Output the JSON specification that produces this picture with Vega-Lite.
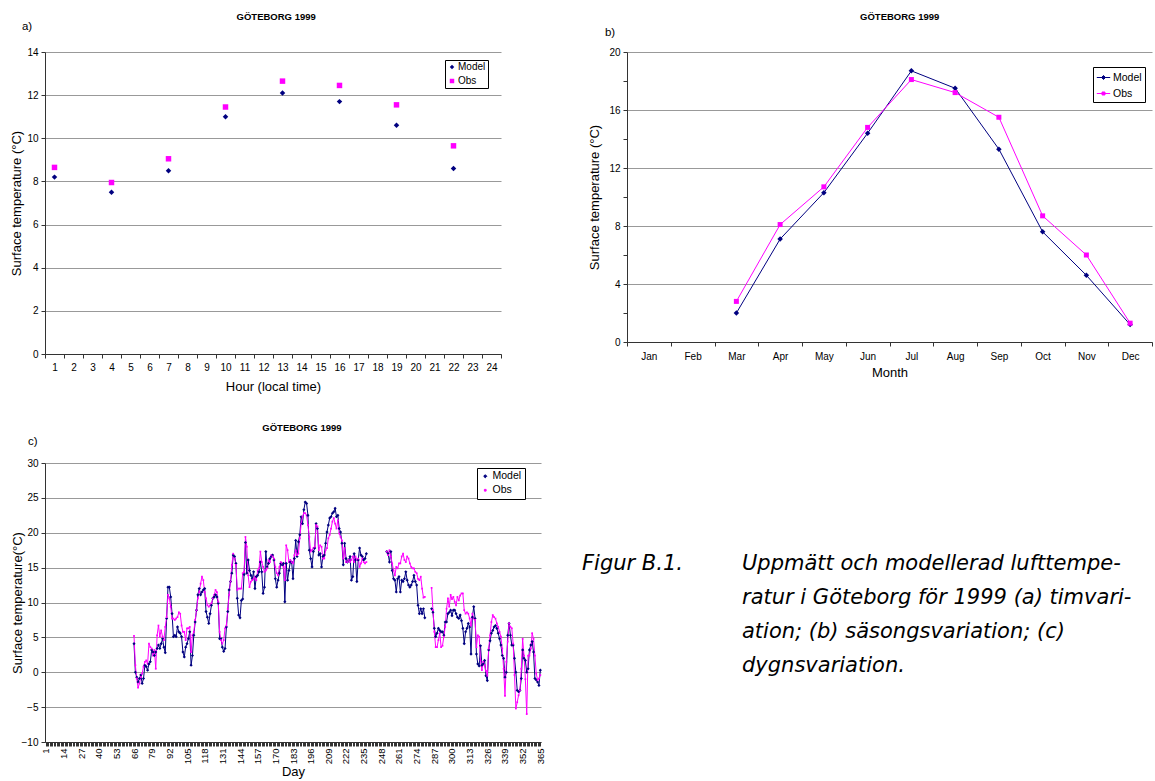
{
  "$schema": "https://vega.github.io/schema/vega-lite/v6.json",
  "background": "white",
  "padding": {"left": 10, "top": 12, "right": 0, "bottom": 0},
  "config": {
    "font": "Liberation Sans",
    "view": {"stroke": null},
    "axis": {"labelFontSize": 10, "titleFontSize": 13, "titleFontWeight": "normal", "labelColor": "#000", "titleColor": "#000", "domainColor": "#333", "tickColor": "#333", "gridColor": "#999", "tickSize": 4, "labelPadding": 3},
    "axisX": {"grid": false},
    "title": {"fontSize": 9.5, "fontWeight": "bold", "color": "#000"},
    "legend": {"title": null, "orient": "none", "strokeColor": "#000", "fillColor": "white", "padding": 3, "labelFontSize": 10.5, "rowPadding": 3, "labelOffset": 2}
  },
  "resolve": {"scale": {"color": "independent", "shape": "independent", "size": "independent"}},
  "spacing": 30,
  "vconcat": [
    {
      "spacing": 86,
      "resolve": {"scale": {"color": "independent", "shape": "independent", "size": "independent"}},
      "hconcat": [
        {
          "title": {"text": "GÖTEBORG 1999", "anchor": "middle", "dx": 20, "offset": -1},
          "vconcat": [
            {
              "title": {"text": "a)", "anchor": "start", "dx": 11, "offset": 15, "fontSize": 11.5, "fontWeight": "normal"},
              "width": 456,
              "height": 302,
              "data": {"values": [
                {"hour": 1, "Model": 8.2, "Obs": 8.65},
                {"hour": 4, "Model": 7.5, "Obs": 7.95},
                {"hour": 7, "Model": 8.5, "Obs": 9.05},
                {"hour": 10, "Model": 11.0, "Obs": 11.45},
                {"hour": 13, "Model": 12.1, "Obs": 12.65},
                {"hour": 16, "Model": 11.7, "Obs": 12.45},
                {"hour": 19, "Model": 10.6, "Obs": 11.55},
                {"hour": 22, "Model": 8.6, "Obs": 9.65}
              ]},
              "transform": [{"fold": ["Model", "Obs"], "as": ["series", "temp"]}],
              "mark": {"type": "point", "filled": true, "opacity": 1, "size": 30},
              "encoding": {
                "x": {"field": "hour", "type": "ordinal", "bandPosition": 0.5,
                  "scale": {"type": "band", "domain": [1,2,3,4,5,6,7,8,9,10,11,12,13,14,15,16,17,18,19,20,21,22,23,24], "paddingInner": 0, "paddingOuter": 0},
                  "axis": {"title": "Hour (local time)", "labelAngle": 0, "tickBand": "extent", "titlePadding": 8, "labelPadding": 4}},
                "y": {"field": "temp", "type": "quantitative", "scale": {"domain": [0, 14], "nice": false},
                  "axis": {"values": [0,2,4,6,8,10,12,14], "title": "Surface temperature (°C)", "grid": true, "titlePadding": 3}},
                "color": {"field": "series", "type": "nominal", "scale": {"domain": ["Model", "Obs"], "range": ["#000080", "#ff00ff"]},
                  "legend": {"legendX": 400, "legendY": 8, "symbolSize": 20, "labelFontSize": 10, "labelOffset": 1, "padding": 2, "rowPadding": 4}},
                "shape": {"field": "series", "type": "nominal", "scale": {"domain": ["Model", "Obs"], "range": ["diamond", "square"]}}
              }
            }
          ]
        },
        {
          "title": {"text": "GÖTEBORG 1999", "anchor": "middle", "dx": 29, "offset": 5},
          "vconcat": [
            {
              "title": {"text": "b)", "anchor": "start", "dx": 16, "offset": 9, "fontSize": 11.5, "fontWeight": "normal"},
              "width": 525,
              "height": 290,
              "data": {"values": [
                {"month": "Mar", "Model": 2.0, "Obs": 2.8},
                {"month": "Apr", "Model": 7.1, "Obs": 8.1},
                {"month": "May", "Model": 10.3, "Obs": 10.7},
                {"month": "Jun", "Model": 14.4, "Obs": 14.8},
                {"month": "Jul", "Model": 18.7, "Obs": 18.1},
                {"month": "Aug", "Model": 17.5, "Obs": 17.2},
                {"month": "Sep", "Model": 13.3, "Obs": 15.5},
                {"month": "Oct", "Model": 7.6, "Obs": 8.7},
                {"month": "Nov", "Model": 4.6, "Obs": 6.0},
                {"month": "Dec", "Model": 1.2, "Obs": 1.3}
              ]},
              "transform": [{"fold": ["Model", "Obs"], "as": ["series", "temp"]}],
              "encoding": {
                "x": {"field": "month", "type": "ordinal", "bandPosition": 0.5,
                  "scale": {"type": "band", "domain": ["Jan","Feb","Mar","Apr","May","Jun","Jul","Aug","Sep","Oct","Nov","Dec"], "paddingInner": 0, "paddingOuter": 0},
                  "axis": {"title": "Month", "labelAngle": 0, "tickBand": "extent", "titlePadding": 5, "labelPadding": 5}},
                "y": {"field": "temp", "type": "quantitative", "scale": {"domain": [0, 20], "nice": false},
                  "axis": {"values": [0,2,4,6,8,10,12,14,16,18,20], "title": "Surface temperature (°C)", "grid": true, "titlePadding": 7,
                    "labelExpr": "datum.value % 4 === 0 ? datum.label : ''",
                    "gridOpacity": {"condition": {"test": "datum.value % 4 === 0", "value": 1}, "value": 0}}},
                "color": {"field": "series", "type": "nominal", "scale": {"domain": ["Model", "Obs"], "range": ["#000080", "#ff00ff"]},
                  "legend": {"legendX": 466, "legendY": 15, "symbolSize": 180,
                    "encode": {"symbols": {"update": {
                      "shape": {"signal": "datum.value === 'Model' ? 'M-1,0H1M0,-0.3L0.3,0L0,0.3L-0.3,0Z' : 'M-1,0H1M-0.22,-0.22H0.22V0.22H-0.22Z'"},
                      "stroke": {"signal": "datum.value === 'Model' ? '#000080' : '#ff00ff'"},
                      "fill": {"signal": "datum.value === 'Model' ? '#000080' : '#ff00ff'"},
                      "strokeWidth": {"value": 1},
                      "opacity": {"value": 1}}}}}}
              },
              "layer": [
                {"mark": {"type": "line", "strokeWidth": 1}},
                {"transform": [{"filter": "datum.series === 'Model'"}],
                  "mark": {"type": "point", "filled": true, "opacity": 1, "size": 30, "shape": "diamond"}},
                {"transform": [{"filter": "datum.series === 'Obs'"}],
                  "mark": {"type": "point", "filled": true, "opacity": 1, "size": 25, "shape": "square"}}
              ]
            }
          ]
        }
      ]
    },
    {
      "spacing": 37,
      "resolve": {"scale": {"color": "independent", "shape": "independent", "size": "independent"}},
      "hconcat": [
        {
          "title": {"text": "GÖTEBORG 1999", "anchor": "middle", "dx": 24, "offset": 3},
          "vconcat": [
            {
              "title": {"text": "c)", "anchor": "start", "dx": 17, "offset": 11, "fontSize": 11.5, "fontWeight": "normal"},
              "width": 496,
              "height": 279,
              "data": {"values": [
{"day":66,"Model":4.1,"Obs":5.2},{"day":67,"Model":0.0,"Obs":1.0},{"day":68,"Model":-0.7,"Obs":-0.9},{"day":69,"Model":-1.4,"Obs":-2.2},{"day":70,"Model":-0.9,"Obs":-1.6},
{"day":71,"Model":-0.4,"Obs":-0.7},{"day":72,"Model":-1.6,"Obs":-0.2},{"day":73,"Model":-0.9,"Obs":0.8},{"day":74,"Model":1.0,"Obs":1.5},{"day":75,"Model":0.8,"Obs":1.7},
{"day":76,"Model":0.3,"Obs":1.2},{"day":77,"Model":1.2,"Obs":4.1},{"day":78,"Model":1.5,"Obs":3.6},{"day":79,"Model":3.2,"Obs":3.4},{"day":80,"Model":2.9,"Obs":2.4},
{"day":81,"Model":2.4,"Obs":3.2},{"day":82,"Model":2.9,"Obs":0.5},{"day":83,"Model":3.4,"Obs":5.3},{"day":84,"Model":3.9,"Obs":6.7},{"day":85,"Model":3.4,"Obs":5.1},
{"day":86,"Model":4.1,"Obs":6.0},{"day":87,"Model":4.8,"Obs":5.1},{"day":88,"Model":3.6,"Obs":4.6},{"day":89,"Model":2.8,"Obs":6.5},{"day":90,"Model":7.7,"Obs":7.9},
{"day":91,"Model":12.2,"Obs":11.1},{"day":92,"Model":12.2,"Obs":10.6},{"day":93,"Model":10.8,"Obs":9.4},{"day":94,"Model":8.4,"Obs":7.7},{"day":95,"Model":5.1,"Obs":7.7},
{"day":96,"Model":5.3,"Obs":7.5},{"day":97,"Model":5.1,"Obs":7.7},{"day":98,"Model":6.5,"Obs":7.9},{"day":99,"Model":5.8,"Obs":8.6},{"day":100,"Model":5.6,"Obs":8.4},
{"day":101,"Model":5.1,"Obs":6.7},{"day":102,"Model":2.9,"Obs":5.8},{"day":103,"Model":2.2,"Obs":5.8},{"day":104,"Model":3.6,"Obs":4.6},{"day":105,"Model":4.1,"Obs":6.3},
{"day":106,"Model":4.8,"Obs":6.3},{"day":107,"Model":5.8,"Obs":6.5},{"day":108,"Model":1.0,"Obs":2.9},{"day":109,"Model":2.4,"Obs":5.3},{"day":110,"Model":5.3,"Obs":5.8},
{"day":111,"Model":7.2,"Obs":7.5},{"day":112,"Model":8.9,"Obs":8.9},{"day":113,"Model":11.1,"Obs":10.6},{"day":114,"Model":12.0,"Obs":11.5},{"day":115,"Model":11.1,"Obs":12.7},
{"day":116,"Model":11.5,"Obs":13.7},{"day":117,"Model":11.8,"Obs":13.2},{"day":118,"Model":12.0,"Obs":11.5},{"day":119,"Model":8.7,"Obs":10.6},{"day":120,"Model":7.9,"Obs":9.6},
{"day":121,"Model":7.0,"Obs":9.4},{"day":122,"Model":8.4,"Obs":9.6},{"day":123,"Model":9.6,"Obs":9.9},{"day":124,"Model":10.6,"Obs":10.6},{"day":125,"Model":10.8,"Obs":11.1},
{"day":126,"Model":11.1,"Obs":11.8},{"day":127,"Model":10.8,"Obs":11.5},{"day":128,"Model":9.9,"Obs":10.1},{"day":129,"Model":4.8,"Obs":5.8},{"day":130,"Model":4.8,"Obs":4.6},
{"day":131,"Model":3.6,"Obs":4.1},{"day":132,"Model":3.0,"Obs":4.6},{"day":133,"Model":3.4,"Obs":6.3},{"day":134,"Model":6.5,"Obs":6.7},{"day":135,"Model":8.7,"Obs":9.1},
{"day":136,"Model":11.8,"Obs":11.1},{"day":137,"Model":13.0,"Obs":13.0},{"day":138,"Model":14.2,"Obs":15.4},{"day":139,"Model":16.8,"Obs":17.0},{"day":140,"Model":16.6,"Obs":16.3},
{"day":141,"Model":15.6,"Obs":15.4},{"day":142,"Model":10.6,"Obs":11.8},{"day":143,"Model":8.2,"Obs":12.0},{"day":144,"Model":7.8,"Obs":12.0},{"day":145,"Model":10.3,"Obs":12.0},
{"day":146,"Model":10.5,"Obs":14.2},{"day":147,"Model":14.0,"Obs":14.4},{"day":148,"Model":18.6,"Obs":19.4},{"day":149,"Model":14.2,"Obs":18.0},{"day":150,"Model":16.1,"Obs":13.9},
{"day":151,"Model":14.6,"Obs":12.2},{"day":152,"Model":13.9,"Obs":13.0},{"day":153,"Model":13.4,"Obs":13.2},{"day":154,"Model":14.4,"Obs":13.4},{"day":155,"Model":12.0,"Obs":13.7},
{"day":156,"Model":13.7,"Obs":13.2},{"day":157,"Model":13.9,"Obs":14.6},{"day":158,"Model":14.4,"Obs":14.9},{"day":159,"Model":15.8,"Obs":17.3},{"day":160,"Model":14.4,"Obs":15.8},
{"day":161,"Model":11.3,"Obs":15.1},{"day":162,"Model":12.2,"Obs":14.4},{"day":163,"Model":17.3,"Obs":14.6},{"day":164,"Model":15.1,"Obs":14.9},{"day":165,"Model":15.6,"Obs":16.1},
{"day":166,"Model":16.3,"Obs":15.8},{"day":167,"Model":16.6,"Obs":16.8},{"day":168,"Model":16.8,"Obs":16.6},{"day":169,"Model":16.1,"Obs":16.3},{"day":170,"Model":13.4,"Obs":15.1},
{"day":171,"Model":12.2,"Obs":14.2},{"day":172,"Model":13.2,"Obs":13.9},{"day":173,"Model":14.2,"Obs":15.1},{"day":174,"Model":15.6,"Obs":15.8},{"day":175,"Model":15.4,"Obs":15.6},
{"day":176,"Model":15.6,"Obs":15.1},{"day":177,"Model":10.1,"Obs":13.2},{"day":178,"Model":15.6,"Obs":18.2},{"day":179,"Model":13.2,"Obs":17.5},{"day":180,"Model":14.6,"Obs":15.8},
{"day":181,"Model":15.8,"Obs":16.1},{"day":182,"Model":15.8,"Obs":15.8},{"day":183,"Model":13.4,"Obs":15.6},{"day":184,"Model":16.3,"Obs":16.8},{"day":185,"Model":18.9,"Obs":17.5},
{"day":186,"Model":16.6,"Obs":16.8},{"day":187,"Model":18.7,"Obs":17.0},{"day":188,"Model":19.7,"Obs":19.2},{"day":189,"Model":22.3,"Obs":21.3},{"day":190,"Model":21.3,"Obs":22.3},
{"day":191,"Model":23.3,"Obs":22.8},{"day":192,"Model":24.4,"Obs":22.8},{"day":193,"Model":24.2,"Obs":22.5},{"day":194,"Model":22.5,"Obs":21.1},{"day":195,"Model":17.5,"Obs":19.4},
{"day":196,"Model":16.3,"Obs":17.3},{"day":197,"Model":15.1,"Obs":17.5},{"day":198,"Model":17.3,"Obs":17.8},{"day":199,"Model":17.8,"Obs":18.0},{"day":200,"Model":21.3,"Obs":21.1},
{"day":201,"Model":20.6,"Obs":20.9},{"day":202,"Model":16.8,"Obs":17.5},{"day":203,"Model":17.0,"Obs":18.2},{"day":204,"Model":15.1,"Obs":18.0},{"day":205,"Model":16.6,"Obs":16.3},
{"day":206,"Model":16.8,"Obs":16.3},{"day":207,"Model":18.5,"Obs":17.5},{"day":208,"Model":20.1,"Obs":17.8},{"day":209,"Model":21.1,"Obs":19.2},{"day":210,"Model":22.1,"Obs":19.7},
{"day":211,"Model":22.3,"Obs":20.6},{"day":212,"Model":22.8,"Obs":21.6},{"day":213,"Model":23.0,"Obs":22.1},{"day":214,"Model":23.5,"Obs":21.3},{"day":215,"Model":22.3,"Obs":20.6},
{"day":216,"Model":22.5,"Obs":21.8},{"day":217,"Model":20.6,"Obs":19.9},{"day":218,"Model":20.1,"Obs":19.4},{"day":219,"Model":18.5,"Obs":18.9},{"day":220,"Model":15.4,"Obs":16.3},
{"day":221,"Model":18.5,"Obs":17.8},{"day":222,"Model":16.3,"Obs":15.8},{"day":223,"Model":15.8,"Obs":15.8},{"day":224,"Model":16.1,"Obs":16.1},{"day":225,"Model":16.6,"Obs":15.8},
{"day":226,"Model":13.2,"Obs":16.1},{"day":227,"Model":13.7,"Obs":16.6},{"day":228,"Model":17.0,"Obs":15.8},{"day":229,"Model":16.1,"Obs":16.6},{"day":230,"Model":13.0,"Obs":16.1},
{"day":231,"Model":16.1,"Obs":16.3},{"day":232,"Model":17.8,"Obs":15.1},{"day":233,"Model":16.8,"Obs":15.6},{"day":234,"Model":16.6,"Obs":16.3},{"day":235,"Model":16.1,"Obs":15.8},
{"day":236,"Model":16.3,"Obs":15.6},{"day":237,"Model":17.0,"Obs":15.8},{"day":238,"Model":null,"Obs":null},
{"day":252,"Model":17.3,"Obs":17.3},{"day":253,"Model":17.0,"Obs":16.8},{"day":254,"Model":15.8,"Obs":17.5},{"day":255,"Model":17.3,"Obs":16.6},
{"day":256,"Model":14.6,"Obs":15.6},{"day":257,"Model":13.4,"Obs":14.6},{"day":258,"Model":13.2,"Obs":13.9},{"day":259,"Model":11.5,"Obs":15.1},{"day":260,"Model":13.4,"Obs":14.9},
{"day":261,"Model":13.7,"Obs":15.6},{"day":262,"Model":11.5,"Obs":15.6},{"day":263,"Model":13.2,"Obs":16.6},{"day":264,"Model":13.0,"Obs":17.0},{"day":265,"Model":13.4,"Obs":16.1},
{"day":266,"Model":14.4,"Obs":15.8},{"day":267,"Model":13.2,"Obs":16.6},{"day":268,"Model":12.5,"Obs":16.3},{"day":269,"Model":12.2,"Obs":15.6},{"day":270,"Model":12.5,"Obs":15.1},
{"day":271,"Model":13.0,"Obs":14.9},{"day":272,"Model":13.9,"Obs":14.9},{"day":273,"Model":13.0,"Obs":14.4},{"day":274,"Model":12.5,"Obs":14.2},{"day":275,"Model":9.6,"Obs":13.4},
{"day":276,"Model":8.4,"Obs":13.2},{"day":277,"Model":9.1,"Obs":13.7},{"day":278,"Model":8.4,"Obs":12.0},{"day":279,"Model":9.1,"Obs":10.7},{"day":280,"Model":7.8,"Obs":10.8},
{"day":281,"Model":null,"Obs":null},
{"day":285,"Model":9.1,"Obs":12.1},{"day":286,"Model":8.6,"Obs":8.9},{"day":287,"Model":6.3,"Obs":5.8},{"day":288,"Model":5.1,"Obs":3.6},{"day":289,"Model":5.6,"Obs":3.6},
{"day":290,"Model":6.3,"Obs":4.6},{"day":291,"Model":6.0,"Obs":5.6},{"day":292,"Model":5.8,"Obs":3.6},{"day":293,"Model":5.8,"Obs":3.8},{"day":294,"Model":5.3,"Obs":5.1},
{"day":295,"Model":7.2,"Obs":6.5},{"day":296,"Model":7.2,"Obs":9.1},{"day":297,"Model":8.4,"Obs":10.6},{"day":298,"Model":8.6,"Obs":9.4},{"day":299,"Model":8.9,"Obs":11.1},
{"day":300,"Model":8.1,"Obs":10.5},{"day":301,"Model":8.9,"Obs":10.8},{"day":302,"Model":8.9,"Obs":10.1},{"day":303,"Model":8.4,"Obs":9.6},{"day":304,"Model":7.9,"Obs":10.8},
{"day":305,"Model":7.7,"Obs":10.3},{"day":306,"Model":8.2,"Obs":11.0},{"day":307,"Model":7.4,"Obs":11.3},{"day":308,"Model":6.3,"Obs":11.3},{"day":309,"Model":4.1,"Obs":8.9},
{"day":310,"Model":5.8,"Obs":8.4},{"day":311,"Model":6.3,"Obs":8.6},{"day":312,"Model":7.0,"Obs":8.4},{"day":313,"Model":6.5,"Obs":7.7},{"day":314,"Model":2.6,"Obs":6.7},
{"day":315,"Model":7.9,"Obs":8.4},{"day":316,"Model":9.4,"Obs":7.7},{"day":317,"Model":7.7,"Obs":7.5},{"day":318,"Model":2.6,"Obs":3.6},{"day":319,"Model":1.2,"Obs":5.3},
{"day":320,"Model":0.9,"Obs":5.1},{"day":321,"Model":3.8,"Obs":1.7},{"day":322,"Model":1.0,"Obs":0.3},{"day":323,"Model":1.2,"Obs":1.5},{"day":324,"Model":1.7,"Obs":1.0},
{"day":325,"Model":-0.5,"Obs":0.2},{"day":326,"Model":-1.2,"Obs":-0.5},{"day":327,"Model":3.2,"Obs":3.4},{"day":328,"Model":4.5,"Obs":5.3},{"day":329,"Model":5.6,"Obs":7.2},
{"day":330,"Model":6.0,"Obs":8.2},{"day":331,"Model":6.5,"Obs":7.9},{"day":332,"Model":6.7,"Obs":7.7},{"day":333,"Model":6.3,"Obs":7.0},{"day":334,"Model":5.6,"Obs":6.5},
{"day":335,"Model":4.8,"Obs":5.8},{"day":336,"Model":3.9,"Obs":5.1},{"day":337,"Model":2.4,"Obs":3.4},{"day":338,"Model":2.0,"Obs":0.5},{"day":339,"Model":-0.7,"Obs":-3.4},
{"day":340,"Model":0.0,"Obs":1.5},{"day":341,"Model":5.3,"Obs":4.4},{"day":342,"Model":7.0,"Obs":7.0},{"day":343,"Model":5.3,"Obs":6.5},{"day":344,"Model":3.9,"Obs":6.3},
{"day":345,"Model":3.9,"Obs":4.1},{"day":346,"Model":2.0,"Obs":-0.4},{"day":347,"Model":0.0,"Obs":-5.2},{"day":348,"Model":-2.6,"Obs":-4.3},{"day":349,"Model":-2.8,"Obs":-3.3},
{"day":350,"Model":-2.6,"Obs":-2.6},{"day":351,"Model":-0.9,"Obs":0.5},{"day":352,"Model":3.2,"Obs":4.8},{"day":353,"Model":2.0,"Obs":2.4},{"day":354,"Model":1.7,"Obs":-1.0},
{"day":355,"Model":0.0,"Obs":-6.0},{"day":356,"Model":0.5,"Obs":2.4},{"day":357,"Model":3.2,"Obs":2.4},{"day":358,"Model":3.9,"Obs":3.4},{"day":359,"Model":4.4,"Obs":5.6},
{"day":360,"Model":2.9,"Obs":4.8},{"day":361,"Model":-0.9,"Obs":2.4},{"day":362,"Model":-1.1,"Obs":-0.2},{"day":363,"Model":-1.4,"Obs":-1.1},{"day":364,"Model":-1.9,"Obs":-0.9},
{"day":365,"Model":0.3,"Obs":-0.4}
              ]},
              "transform": [{"fold": ["Model", "Obs"], "as": ["series", "temp"]}],
              "encoding": {
                "x": {"field": "day", "type": "quantitative", "scale": {"domain": [0.5, 365.5], "nice": false, "zero": false},
                  "axis": {"title": "Day", "tickCount": 365, "labelExpr": "(datum.value - 1) % 13 === 0 ? datum.label : ''", "labelAngle": -90, "labelOverlap": false, "labelFlush": false, "labelFontSize": 9.5, "labelPadding": 2, "titlePadding": 2}},
                "y": {"field": "temp", "type": "quantitative", "scale": {"domain": [-10, 30], "nice": false},
                  "axis": {"values": [-10,-5,0,5,10,15,20,25,30], "title": "Surface temperature(°C)", "grid": true, "titlePadding": -3}},
                "color": {"field": "series", "type": "nominal", "scale": {"domain": ["Model", "Obs"], "range": ["#000080", "#ff00ff"]},
                  "legend": {"legendX": 432, "legendY": 5, "symbolSize": 180,
                    "encode": {"symbols": {"update": {
                      "shape": {"signal": "datum.value === 'Model' ? 'M-1,0H1M0,-0.25L0.25,0L0,0.25L-0.25,0Z' : 'M-1,0H1M-0.12,-0.12H0.12V0.12H-0.12Z'"},
                      "stroke": {"signal": "datum.value === 'Model' ? '#000080' : '#ff00ff'"},
                      "fill": {"signal": "datum.value === 'Model' ? '#000080' : '#ff00ff'"},
                      "strokeWidth": {"value": 1},
                      "opacity": {"value": 1}}}}}}
              },
              "layer": [
                {"mark": {"type": "line", "strokeWidth": 1, "invalid": "break-paths-filter-domains"}},
                {"mark": {"type": "point", "filled": true, "opacity": 1},
                  "encoding": {
                    "shape": {"field": "series", "type": "nominal", "scale": {"domain": ["Model", "Obs"], "range": ["diamond", "square"]}, "legend": null},
                    "size": {"field": "series", "type": "nominal", "scale": {"domain": ["Model", "Obs"], "range": [10, 3]}, "legend": null}}}
              ]
            }
          ]
        },
        {
          "width": 160,
          "height": 170,
          "data": {"values": [
            {"col": "label", "line": 1, "text": "Figur B.1."},
            {"col": "body", "line": 1, "text": "Uppmätt och modellerad lufttempe-"},
            {"col": "body", "line": 2, "text": "ratur i Göteborg för 1999 (a) timvari-"},
            {"col": "body", "line": 3, "text": "ation; (b) säsongsvariation; (c)"},
            {"col": "body", "line": 4, "text": "dygnsvariation."}
          ]},
          "mark": {"type": "text", "align": "left", "baseline": "middle", "dy": 33, "font": "DejaVu Sans", "fontStyle": "italic", "fontSize": 21, "color": "#000"},
          "encoding": {
            "x": {"field": "col", "type": "nominal", "scale": {"type": "point", "domain": ["label", "body"], "padding": 0}, "axis": null},
            "y": {"field": "line", "type": "ordinal", "scale": {"type": "point", "domain": [1, 2, 3, 4], "padding": 1, "align": 1}, "axis": null},
            "text": {"field": "text"}
          }
        }
      ]
    }
  ]
}
